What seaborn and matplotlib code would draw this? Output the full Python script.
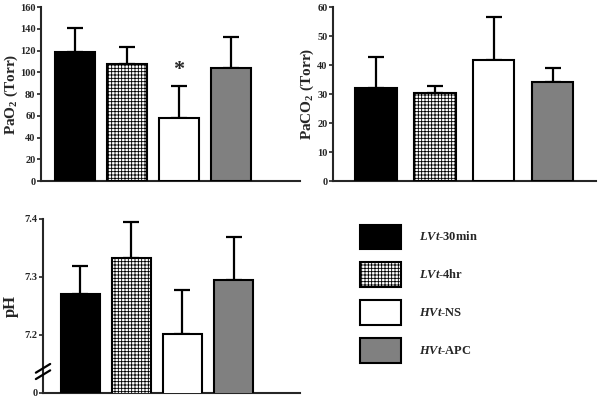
import numpy as np
import pandas as pd
import matplotlib
matplotlib.use("Agg")
import matplotlib.pyplot as plt
import seaborn as sns
from matplotlib.patches import Patch

groups = ["LVt-30min", "LVt-4hr", "HVt-NS", "HVt-APC"]
legend_labels = [r"$\mathit{LVt}$-30min", r"$\mathit{LVt}$-4hr",
                 r"$\mathit{HVt}$-NS", r"$\mathit{HVt}$-APC"]
pao2_mean = [119, 108, 58, 104]
pao2_sd = [22, 15, 29, 28]
paco2_mean = [32.2, 30.3, 41.7, 34.2]
paco2_sd = [10.7, 2.5, 14.7, 4.8]
ph_mean = [7.27, 7.332, 7.202, 7.294]
ph_sd = [0.049, 0.062, 0.075, 0.075]

colors = ["black", "white", "white", "#808080"]
hatches = ["", "+++++", "", ""]

sns.set_style("ticks")
plt.rcParams["font.family"] = ["Liberation Serif", "DejaVu Serif"]
plt.rcParams["font.weight"] = "bold"
plt.rcParams["axes.labelweight"] = "bold"
plt.rcParams["mathtext.fontset"] = "custom"
plt.rcParams["mathtext.rm"] = "Liberation Serif:bold"
plt.rcParams["mathtext.bf"] = "Liberation Serif:bold"
plt.rcParams["mathtext.it"] = "Liberation Serif:italic:bold"
plt.rcParams["hatch.linewidth"] = 0.6

fig = plt.figure(figsize=(6, 4.01), dpi=100)
ax1 = fig.add_axes([0.0683, 0.5486, 0.4317, 0.4339])
ax2 = fig.add_axes([0.555, 0.5486, 0.438, 0.4339])
ax3 = fig.add_axes([0.0717, 0.02, 0.4283, 0.4339])


def draw_panel(ax, means, sds, width):
    df = pd.DataFrame({"group": groups, "value": means})
    sns.barplot(data=df, x="group", y="value", hue="group",
                palette=dict(zip(groups, colors)), legend=False,
                errorbar=None, width=width, edgecolor="black",
                linewidth=1.5, ax=ax, zorder=3)
    for patch, h in zip(ax.patches, hatches):
        patch.set_hatch(h)
    ax.errorbar(range(len(groups)), means,
                yerr=[np.zeros(len(sds)), sds], fmt="none",
                ecolor="black", elinewidth=1.6, capsize=6, capthick=1.6,
                zorder=2)
    ax.set_xlabel("")
    ax.set_xticks([])
    sns.despine(ax=ax)
    for s in ["left", "bottom"]:
        ax.spines[s].set_linewidth(1.5)
    ax.tick_params(axis="y", length=3, width=1.2, pad=1, labelsize=7.5)


draw_panel(ax1, pao2_mean, pao2_sd, 0.77)
ax1.set_ylim(0, 160)
ax1.set_yticks(range(0, 161, 20))
ax1.set_xlim(-0.66, 4.33)
ax1.set_ylabel(r"PaO$_\mathrm{2}$ (Torr)", fontsize=11, labelpad=0)
ax1.text(2, 102, "*", ha="center", va="center", fontsize=16,
         fontweight="bold")

draw_panel(ax2, paco2_mean, paco2_sd, 0.7)
ax2.set_ylim(0, 60)
ax2.set_yticks(range(0, 61, 10))
ax2.set_xlim(-0.73, 3.73)
ax2.set_ylabel(r"PaCO$_\mathrm{2}$ (Torr)", fontsize=11, labelpad=1)

draw_panel(ax3, ph_mean, ph_sd, 0.76)
ax3.set_ylim(7.1, 7.4)
ax3.set_yticks([7.1, 7.2, 7.3, 7.4])
ax3.set_yticklabels(["0", "7.2", "7.3", "7.4"])
ax3.set_xlim(-0.73, 4.3)
ax3.set_ylabel("pH", fontsize=12, labelpad=4)
# axis break marks
for dy in (0.0, 0.011):
    ax3.plot([-0.87, -0.59], [7.124 + dy, 7.139 + dy], color="black",
             lw=1.6, clip_on=False, zorder=5)

handles = [Patch(facecolor=c, edgecolor="black", hatch=h, linewidth=1.5)
           for c, h in zip(colors, hatches)]
fig.legend(handles, legend_labels, loc="upper left",
           bbox_to_anchor=(0.6, 0.44), frameon=False, fontsize=9,
           handlelength=3.3, handleheight=2.6, labelspacing=1.1,
           handletextpad=1.4, borderpad=0, borderaxespad=0)

fig.savefig("out.png", dpi=100)
